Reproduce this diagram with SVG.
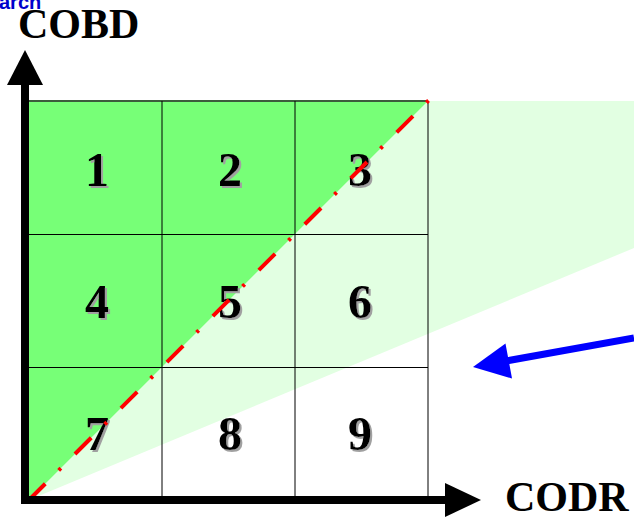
<svg xmlns="http://www.w3.org/2000/svg" width="634" height="517" viewBox="0 0 634 517">
<defs>
<filter id="shadow" x="-20%" y="-20%" width="150%" height="150%">
<feOffset in="SourceAlpha" dx="2" dy="2" result="off"/>
<feFlood flood-color="#a0a0a0"/>
<feComposite in2="off" operator="in" result="sh"/>
<feMerge><feMergeNode in="sh"/><feMergeNode in="SourceGraphic"/></feMerge>
</filter>
</defs>
<style>
.num{font-family:"Liberation Serif","Times New Roman",serif;font-weight:bold;font-size:48px;text-anchor:middle;fill:#000;filter:url(#shadow)}
.grid{stroke:#000;stroke-width:1;fill:none}
.axlbl{font-family:"Liberation Serif","Times New Roman",serif;font-weight:bold;font-size:42px;fill:#000}
</style>
<rect width="634" height="517" fill="#fff"/>
<g id="regions">
<polygon points="29,500 428,101 634,101 634,248" fill="#e2ffe2"/>
<polygon points="29,101 428,101 29,500" fill="#77ff77"/>
</g>
<g id="grid">
<line x1="29" y1="101" x2="428" y2="101" stroke="#3c5c3c" stroke-width="2"/>
<line class="grid" x1="29" y1="234.5" x2="428" y2="234.5"/>
<line class="grid" x1="29" y1="367.5" x2="428" y2="367.5"/>
<line class="grid" x1="162" y1="101" x2="162" y2="500"/>
<line class="grid" x1="295" y1="101" x2="295" y2="500"/>
<line class="grid" x1="428" y1="101" x2="428" y2="500"/>
</g>
<g id="cells">
<g id="n1"><text class="num" x="97" y="186">1</text></g>
<g id="n2"><text class="num" x="230" y="186">2</text></g>
<g id="n3"><text class="num" x="360" y="186">3</text></g>
<g id="n4"><text class="num" x="97" y="318">4</text></g>
<g id="n5"><text class="num" x="230" y="318">5</text></g>
<g id="n6"><text class="num" x="360" y="318">6</text></g>
<g id="n7"><text class="num" x="97" y="450">7</text></g>
<g id="n8"><text class="num" x="230" y="450">8</text></g>
<g id="n9"><text class="num" x="360" y="450">9</text></g>
</g>
<g id="connectors">
<line x1="29" y1="500" x2="430" y2="99" stroke="#ff0000" stroke-width="4" stroke-dasharray="23 19 3 20"/>
<line x1="25" y1="84" x2="25" y2="504" stroke="#000" stroke-width="8"/>
<polygon points="25,50 43,85 7,85" fill="#000"/>
<line x1="21" y1="500" x2="446" y2="500" stroke="#000" stroke-width="8"/>
<polygon points="481,500 445,483 445,517" fill="#000"/>
<line x1="634" y1="338" x2="506" y2="361" stroke="#0000ff" stroke-width="7"/>
<polygon points="473,367 505.5,343.5 512,378.5" fill="#0000ff"/>
</g>
<g id="labels">
<text class="axlbl" x="18" y="38">COBD</text>
<text class="axlbl" x="505" y="511">CODR</text>
<text x="-1" y="9" font-family="Liberation Sans,Arial,sans-serif" font-weight="bold" font-size="20" fill="#0000cc">arch</text>
</g>
</svg>
